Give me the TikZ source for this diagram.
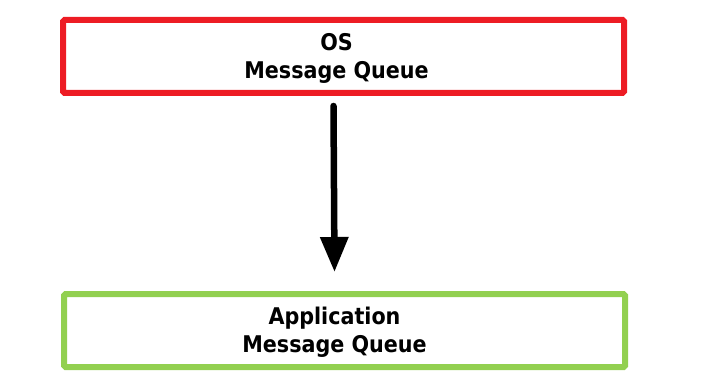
\documentclass[tikz,border=0pt]{standalone}
\usepackage{fontspec}
\setmainfont{DejaVu Sans Condensed}
\usetikzlibrary{arrows.meta}
\definecolor{boxred}{HTML}{ED1C24}
\definecolor{boxgreen}{HTML}{92D050}
\begin{document}
\begin{tikzpicture}[x=1pt,y=1pt,
  qbox/.style={draw, line width=6pt, rounded corners=1.5pt, minimum width=561pt, minimum height=73pt, inner sep=0pt},
  qtext/.style={align=center, inner sep=0pt, font=\fontsize{23}{28}\selectfont\bfseries},
  flow/.style={line width=6.5pt, line cap=round, -{Triangle[length=35pt,width=27pt]}}]
\useasboundingbox (0,0) rectangle (723,389);
\node[qbox, draw=boxred] (os) at (343.5,332.5) {};
\node[qtext] (ost) at (336.5,331) {OS\\Message Queue};
\node[qbox, draw=boxgreen] (app) at (344.5,58.5) {};
\node[qtext] (appt) at (334.5,56.5) {Application\\Message Queue};
\coordinate (s) at (333.5,283);
\coordinate (e) at (334.5,117);
\draw[flow] (s) -- (e);
\end{tikzpicture}
\end{document}
